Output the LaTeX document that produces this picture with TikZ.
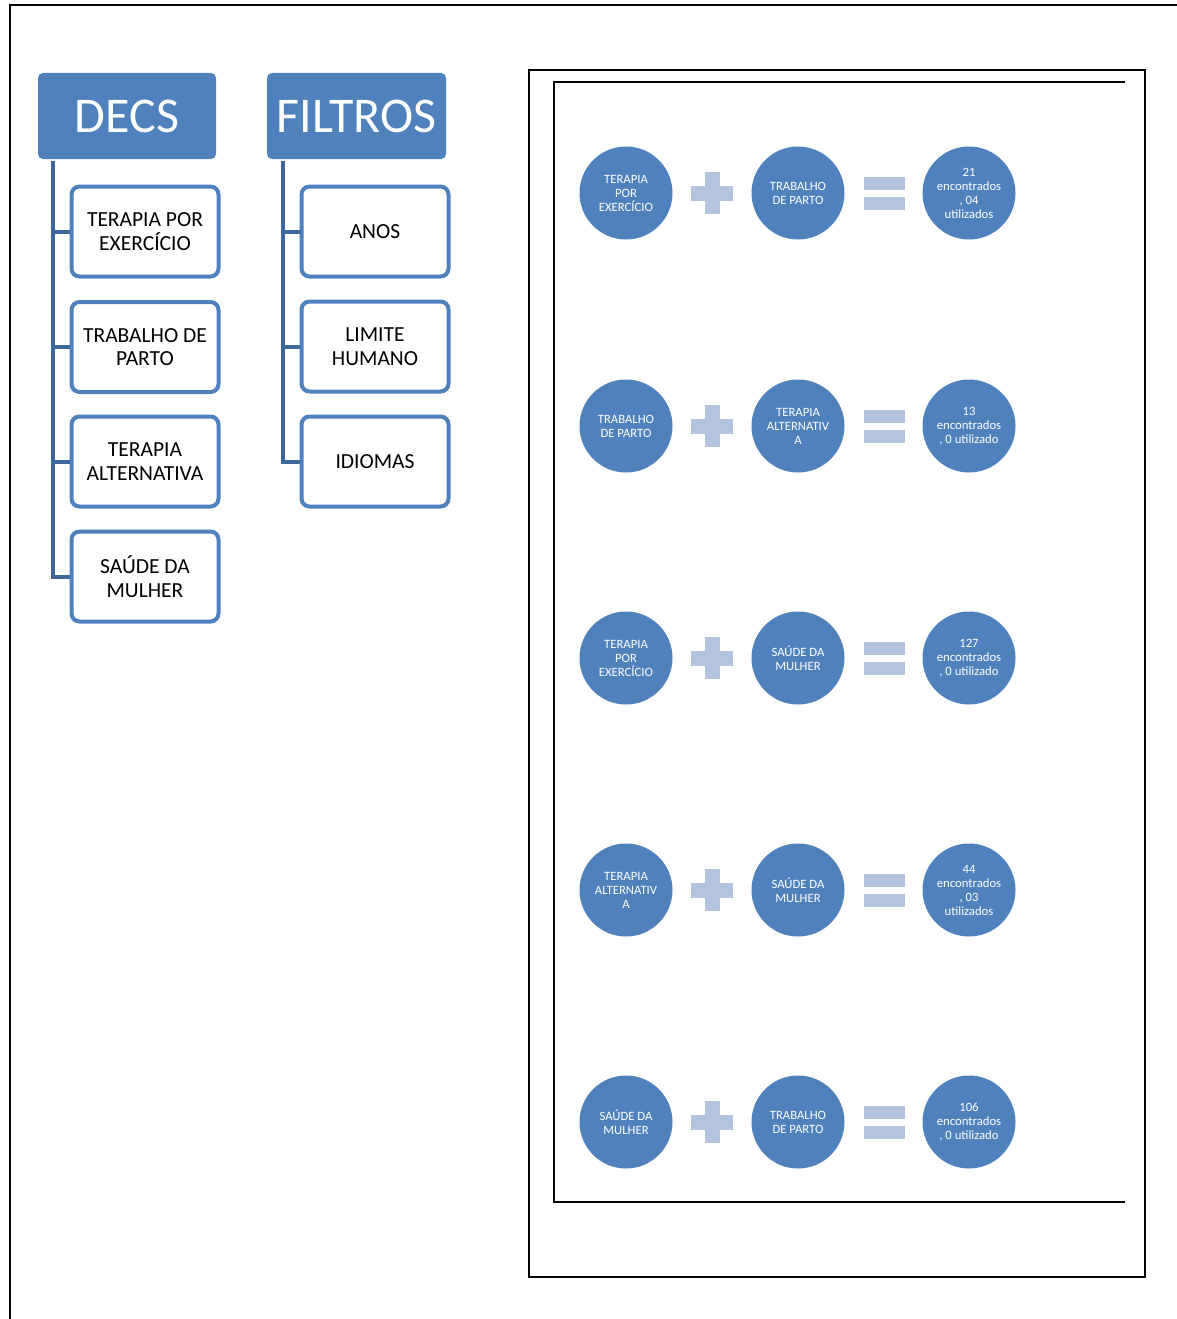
\documentclass[tikz,border=0pt]{standalone}
\usepackage{fontspec}
\setmainfont{Carlito}
\usetikzlibrary{positioning}

\definecolor{officeblue}{HTML}{4F81BD}
\definecolor{trunkblue}{HTML}{3E6799}
\definecolor{paleblue}{HTML}{B4C4DE}

\tikzset{
  header/.style={fill=officeblue, rounded corners=5, minimum width=178, minimum height=86,
    inner sep=0, text=white, font=\fontsize{50}{52}\selectfont},
  term/.style={draw=officeblue, line width=4, fill=white, rounded corners=8, minimum width=147,
    minimum height=90, inner sep=0, align=center, font=\fontsize{21.5}{23.5}\selectfont},
  trunk/.style={draw=trunkblue, line width=4},
  bubble/.style={circle, fill=officeblue, minimum size=93, inner sep=0, align=center,
    text=white, font=\fontsize{12.7}{14}\selectfont},
  frame/.style={line width=1.6},
  plussign/.pic={
    \fill[paleblue] (-7.5,-21) rectangle (7.5,21);
    \fill[paleblue] (-21,-7.5) rectangle (21,7.5);
  },
  equalsign/.pic={
    \fill[paleblue] (-20.5,-16.5) rectangle (20.5,-3.5);
    \fill[paleblue] (-20.5,3.5) rectangle (20.5,16.5);
  }
}

\begin{document}
\begin{tikzpicture}[x=1pt,y=1pt,yscale=-1,xscale=1]
\useasboundingbox (0,0) rectangle (1177,1319);

% Page frame
\draw [frame] (10,1319) -- (10,5) -- (1177,5);

% Headers
\node [header] (decs) at (127,116) {DECS};
\node [header, minimum width=179] (filtros) at (356.5,116) {FILTROS};

% DECS terms
\node [term] (d1) at (145,231.5) {TERAPIA POR\\EXERCÍCIO};
\node [term] (d2) at (145,347) {TRABALHO DE\\PARTO};
\node [term] (d3) at (145,461.5) {TERAPIA\\ALTERNATIVA};
\node [term] (d4) at (145,576.5) {SAÚDE DA\\MULHER};

% Filter terms
\node [term] (f1) at (375,231.5) {ANOS};
\node [term] (f2) at (375,346.5) {LIMITE\\HUMANO};
\node [term] (f3) at (375,461.5) {IDIOMAS};

% Tree lines
\coordinate (dtop) at (53,161);
\coordinate (ftop) at (283,161);
\foreach \k in {1,...,4} {
  \draw [trunk] (dtop) |- (d\k.west);
}
\foreach \k in {1,...,3} {
  \draw [trunk] (ftop) |- (f\k.west);
}

% Results box
\draw [frame] (529,70) rectangle (1145,1277);
\draw [frame] (1125,82) -- (554,82) -- (554,1202) -- (1125,1202);

% Combinations
\foreach \y/\ta/\tb/\tc [count=\r] in {
  193/{TERAPIA\\POR\\EXERCÍCIO}/{TRABALHO\\DE PARTO}/{21\\encontrados\\, 04\\utilizados},
  426/{TRABALHO\\DE PARTO}/{TERAPIA\\ALTERNATIV\\A}/{13\\encontrados\\, 0 utilizado},
  658/{TERAPIA\\POR\\EXERCÍCIO}/{SAÚDE DA\\MULHER}/{127\\encontrados\\, 0 utilizado},
  890/{TERAPIA\\ALTERNATIV\\A}/{SAÚDE DA\\MULHER}/{44\\encontrados\\, 03\\utilizados},
  1122/{SAÚDE DA\\MULHER}/{TRABALHO\\DE PARTO}/{106\\encontrados\\, 0 utilizado}} {
  \node [bubble] (a\r) at (626,\y) {\ta};
  \pic at (712,\y) {plussign};
  \node [bubble] (b\r) at (798,\y) {\tb};
  \pic at (884,\y) {equalsign};
  \node [bubble] (c\r) at (969,\y) {\tc};
}

\end{tikzpicture}
\end{document}
